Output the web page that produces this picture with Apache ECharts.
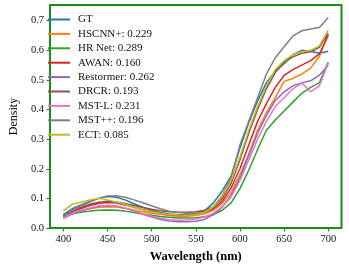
<!DOCTYPE html>
<html><head><meta charset="utf-8">
<script src="https://cdn.jsdelivr.net/npm/echarts@6/dist/echarts.min.js"></script>
<style>html,body{margin:0;padding:0;background:#fff}#c{width:349px;height:268px}</style>
</head><body><div id="c"></div>
<script>
const wavelengths = [400,410,420,430,440,450,460,470,480,490,500,510,520,530,540,550,560,570,580,590,600,610,620,630,640,650,660,670,680,690,700];
const xTicks = [400,450,500,550,600,650,700];
const yTicks = [0,0.1,0.2,0.3,0.4,0.5,0.6,0.7];
const seriesNames = ['GT','HSCNN+: 0.229','HR Net: 0.289','AWAN: 0.160','Restormer: 0.262','DRCR: 0.193','MST-L: 0.231','MST++: 0.196','ECT: 0.085'];
const colors = ['#1f77b4','#ff7f0e','#2ca02c','#d62728','#9467bd','#8c564b','#e377c2','#7f7f7f','#bcbd22'];
const gt =        [0.045,0.065,0.078,0.090,0.100,0.106,0.104,0.095,0.082,0.070,0.060,0.052,0.047,0.045,0.045,0.048,0.058,0.085,0.125,0.175,0.270,0.355,0.430,0.490,0.530,0.555,0.585,0.600,0.597,0.590,0.597];
const hscnn =     [0.035,0.048,0.058,0.065,0.070,0.072,0.071,0.067,0.061,0.055,0.050,0.046,0.042,0.040,0.040,0.042,0.048,0.060,0.083,0.120,0.180,0.250,0.330,0.390,0.440,0.495,0.505,0.520,0.540,0.580,0.655];
const hrnet =     [0.040,0.048,0.053,0.057,0.060,0.061,0.060,0.057,0.052,0.047,0.043,0.039,0.036,0.034,0.034,0.035,0.038,0.045,0.060,0.085,0.133,0.195,0.265,0.330,0.365,0.395,0.425,0.455,0.475,0.490,0.560];
const awan =      [0.040,0.055,0.066,0.076,0.083,0.086,0.084,0.078,0.070,0.062,0.055,0.050,0.046,0.044,0.044,0.046,0.052,0.065,0.090,0.135,0.200,0.280,0.360,0.420,0.475,0.515,0.535,0.550,0.565,0.588,0.650];
const restormer = [0.033,0.048,0.058,0.067,0.073,0.076,0.074,0.067,0.057,0.046,0.037,0.029,0.024,0.021,0.021,0.023,0.029,0.045,0.070,0.110,0.170,0.245,0.320,0.380,0.430,0.460,0.480,0.490,0.497,0.516,0.550];
const drcr =      [0.040,0.060,0.070,0.080,0.087,0.090,0.088,0.083,0.076,0.069,0.063,0.058,0.055,0.053,0.053,0.055,0.060,0.070,0.100,0.150,0.230,0.320,0.400,0.470,0.525,0.560,0.578,0.590,0.595,0.610,0.658];
const mstl =      [0.035,0.050,0.060,0.068,0.074,0.076,0.074,0.068,0.058,0.048,0.040,0.033,0.028,0.026,0.027,0.030,0.037,0.050,0.072,0.105,0.160,0.230,0.300,0.360,0.410,0.440,0.470,0.490,0.460,0.480,0.557];
const mstpp =     [0.040,0.060,0.075,0.088,0.100,0.108,0.109,0.104,0.095,0.085,0.075,0.065,0.057,0.052,0.050,0.050,0.055,0.070,0.110,0.170,0.280,0.360,0.440,0.520,0.575,0.612,0.648,0.666,0.672,0.677,0.711];
const ect =       [0.058,0.080,0.087,0.095,0.100,0.095,0.088,0.080,0.070,0.062,0.055,0.050,0.046,0.044,0.043,0.045,0.052,0.072,0.110,0.160,0.240,0.330,0.410,0.480,0.535,0.565,0.585,0.595,0.600,0.615,0.668];
const allValues = [gt,hscnn,hrnet,awan,restormer,drcr,mstl,mstpp,ect];

const serif = '"Liberation Serif","DejaVu Serif",serif';
const green = '#1a8c1a';
const chart = echarts.init(document.getElementById('c'), null, {renderer:'canvas'});
chart.setOption({
  animation:false,
  backgroundColor:'#fff',
  color: colors,
  grid:{left:40, right:7.5, top:5, bottom:36.5, show:true, borderColor:green, borderWidth:2, backgroundColor:'transparent'},
  legend:{
    orient:'vertical', left:43, top:8, icon:'rect', itemWidth:22, itemHeight:2, itemGap:1.4,
    textStyle:{fontFamily:serif, fontSize:11, color:'#111', lineHeight:13, padding:[0,0,0,3]},
    data: seriesNames
  },
  xAxis:{
    type:'value', min:385, max:715,
    name:'Wavelength (nm)', nameLocation:'middle', nameGap:22,
    nameTextStyle:{fontFamily:serif, fontSize:12.5, fontWeight:'bold', color:'#000'},
    axisLine:{show:false},
    axisTick:{show:true, length:3.5, lineStyle:{color:green, width:1.2}, customValues:xTicks},
    axisLabel:{fontFamily:serif, fontSize:10.5, color:'#111', margin:6, customValues:xTicks},
    splitLine:{show:false}
  },
  yAxis:{
    type:'value', min:0, max:0.753,
    name:'Density', nameLocation:'middle', nameGap:28, nameRotate:90,
    nameTextStyle:{fontFamily:serif, fontSize:12, color:'#000'},
    axisLine:{show:false},
    axisTick:{show:true, length:3.5, lineStyle:{color:green, width:1.2}, customValues:yTicks},
    axisLabel:{fontFamily:serif, fontSize:10.5, color:'#111', margin:6, customValues:yTicks, formatter:v=>v.toFixed(1)},
    splitLine:{show:false}
  },
  series: seriesNames.map((n,i)=>({
    name:n, type:'line', showSymbol:false, symbol:'none',
    lineStyle:{width:1.5, color:colors[i]}, itemStyle:{color:colors[i]},
    data: wavelengths.map((w,j)=>[w, allValues[i][j]])
  }))
});
</script></body></html>
